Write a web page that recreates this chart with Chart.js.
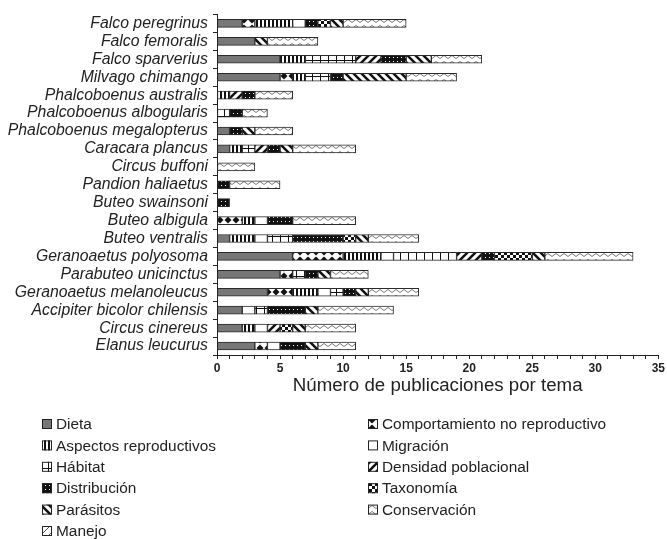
<!DOCTYPE html>
<html>
<head>
<meta charset="utf-8">
<script src="https://cdn.jsdelivr.net/npm/chart.js@4"></script>
<style>
  html, body { margin: 0; padding: 0; background: #fff; }
  #chart { display: block; }
</style>
</head>
<body>
<canvas id="chart" width="667" height="539"></canvas>
<script>
// Species, top to bottom
const species = [
  'Falco peregrinus', 'Falco femoralis', 'Falco sparverius', 'Milvago chimango',
  'Phalcoboenus australis', 'Phalcoboenus albogularis', 'Phalcoboenus megalopterus',
  'Caracara plancus', 'Circus buffoni', 'Pandion haliaetus', 'Buteo swainsoni',
  'Buteo albigula', 'Buteo ventralis', 'Geranoaetus polyosoma', 'Parabuteo unicinctus',
  'Geranoaetus melanoleucus', 'Accipiter bicolor chilensis', 'Circus cinereus', 'Elanus leucurus'
];

// Number of publications per topic (same order as species)
const dieta          = [2, 3, 5, 5, 0, 0, 1, 1, 0, 0, 0, 0, 1, 6, 5, 4, 2, 2, 3];
const comportamiento = [1, 0, 0, 1, 0, 0, 0, 0, 0, 0, 0, 2, 0, 4, 1, 2, 0, 0, 1];
const aspectos       = [3, 0, 2, 1, 1, 0, 0, 1, 0, 0, 0, 1, 2, 3, 0, 2, 0, 1, 0];
const migracion      = [1, 0, 0, 0, 0, 0, 0, 0, 0, 0, 0, 1, 1, 1, 0, 1, 1, 1, 1];
const habitat        = [0, 0, 4, 2, 0, 1, 0, 1, 0, 0, 0, 0, 2, 5, 1, 1, 1, 0, 0];
const densidad       = [0, 0, 2, 0, 1, 0, 0, 1, 0, 0, 0, 0, 0, 2, 0, 0, 0, 1, 0];
const distribucion   = [1, 0, 2, 1, 1, 1, 1, 1, 0, 1, 1, 2, 4, 1, 1, 1, 3, 0, 2];
const taxonomia      = [1, 0, 0, 0, 0, 0, 0, 0, 0, 0, 0, 0, 1, 3, 0, 0, 0, 1, 0];
const parasitos      = [1, 1, 2, 5, 0, 0, 1, 1, 0, 0, 0, 0, 1, 1, 1, 1, 1, 1, 1];
const conservacion   = [5, 4, 4, 4, 3, 2, 3, 5, 3, 4, 0, 5, 4, 7, 3, 4, 6, 4, 3];
const manejo         = [0, 0, 0, 0, 0, 0, 0, 0, 0, 0, 0, 0, 0, 0, 0, 0, 0, 0, 0];

const topicNames = [
  'Dieta', 'Comportamiento no reproductivo', 'Aspectos reproductivos', 'Migración',
  'Hábitat', 'Densidad poblacional', 'Distribución', 'Taxonomía',
  'Parásitos', 'Conservación', 'Manejo'
];
const topicValues = [
  dieta, comportamiento, aspectos, migracion, habitat, densidad,
  distribucion, taxonomia, parasitos, conservacion, manejo
];

const FONT = '"Liberation Sans", Arial, sans-serif';
const INK = '#222';

const canvas = document.getElementById('chart');
const mainCtx = canvas.getContext('2d');

// Build a black & white fill pattern for each topic
function makePattern(kind) {
  const c = document.createElement('canvas');
  let w = 8, h = 8;
  if (kind === 'aspectos' || kind === 'distribucion') { w = 4; h = 4; }
  if (kind === 'taxonomia') { w = 6; h = 6; }
  if (kind === 'conservacion') { w = 8; h = 6; }
  c.width = w; c.height = h;
  const g = c.getContext('2d');
  g.fillStyle = '#fff';
  g.fillRect(0, 0, w, h);
  g.fillStyle = '#111';
  g.strokeStyle = '#111';

  switch (kind) {
    case 'dieta':
      g.fillStyle = '#777';
      g.fillRect(0, 0, w, h);
      break;
    case 'comportamiento':
      g.beginPath();
      g.moveTo(4, 0.5); g.lineTo(7.5, 4); g.lineTo(4, 7.5); g.lineTo(0.5, 4);
      g.closePath();
      g.fill();
      break;
    case 'aspectos':
      g.fillRect(0, 0, 2, 4);
      break;
    case 'migracion':
      break;
    case 'habitat':
      g.fillRect(0, 0, 1, 8);
      g.fillRect(0, 4, 8, 1);
      break;
    case 'densidad':
      g.lineWidth = 2.5;
      g.beginPath();
      g.moveTo(-2, 10); g.lineTo(10, -2);
      g.moveTo(-2, 2); g.lineTo(2, -2);
      g.moveTo(6, 10); g.lineTo(10, 6);
      g.stroke();
      break;
    case 'distribucion':
      g.fillRect(0, 0, 4, 4);
      g.fillStyle = '#fff';
      g.fillRect(1, 1, 1, 1);
      break;
    case 'taxonomia':
      g.fillRect(0, 0, 3, 3);
      g.fillRect(3, 3, 3, 3);
      break;
    case 'parasitos':
      g.lineWidth = 2.5;
      g.beginPath();
      g.moveTo(-2, -2); g.lineTo(10, 10);
      g.moveTo(6, -2); g.lineTo(10, 2);
      g.moveTo(-2, 6); g.lineTo(2, 10);
      g.stroke();
      break;
    case 'conservacion':
      g.strokeStyle = '#777';
      g.lineWidth = 1;
      g.beginPath();
      g.moveTo(0, 4.5); g.lineTo(4, 1.5); g.lineTo(8, 4.5);
      g.stroke();
      break;
    case 'manejo':
      g.strokeStyle = '#555';
      g.lineWidth = 1;
      g.beginPath();
      g.moveTo(0, 8); g.lineTo(8, 0);
      g.stroke();
      break;
  }
  return mainCtx.createPattern(c, 'repeat');
}

const patternKinds = [
  'dieta', 'comportamiento', 'aspectos', 'migracion', 'habitat', 'densidad',
  'distribucion', 'taxonomia', 'parasitos', 'conservacion', 'manejo'
];
const patterns = patternKinds.map(makePattern);

const datasets = topicNames.map((name, i) => ({
  label: name,
  data: topicValues[i].map(v => (v === 0 ? null : v)),
  backgroundColor: patterns[i],
  borderColor: '#2a2a2a',
  borderWidth: 1,
  borderSkipped: false,
  barThickness: 8
}));

// Two-column legend drawn under the axis
const patternLegend = {
  id: 'patternLegend',
  afterDraw(chart) {
    const ctx = chart.ctx;
    ctx.save();
    ctx.font = '15.4px ' + FONT;
    ctx.textBaseline = 'middle';
    topicNames.forEach((name, i) => {
      const col = i % 2;
      const row = Math.floor(i / 2);
      const x = col === 0 ? 42 : 368;
      const y = 424 + row * 21.4;
      ctx.fillStyle = patterns[i];
      ctx.fillRect(x, y - 5, 10, 10);
      ctx.strokeStyle = INK;
      ctx.lineWidth = 1;
      ctx.strokeRect(x + 0.5, y - 4.5, 9, 9);
      ctx.fillStyle = INK;
      ctx.fillText(name, x + 14, y + 1);
    });
    ctx.restore();
  }
};

new Chart(canvas, {
  type: 'bar',
  data: { labels: species, datasets: datasets },
  options: {
    indexAxis: 'y',
    responsive: false,
    animation: false,
    layout: { padding: { top: 8, right: 5, bottom: 136, left: 0 } },
    scales: {
      x: {
        stacked: true,
        min: 0,
        max: 35,
        ticks: {
          stepSize: 1,
          autoSkip: false,
          maxRotation: 0,
          padding: 2,
          color: INK,
          font: { family: FONT, size: 12, weight: 'bold' },
          callback: v => (v % 5 === 0 ? v : '')
        },
        grid: { drawOnChartArea: false, tickLength: 4, color: INK },
        border: { color: INK, width: 1 },
        title: {
          display: true,
          text: 'Número de publicaciones por tema',
          color: INK,
          font: { family: FONT, size: 18.7 },
          padding: { top: 6, bottom: 6 }
        },
        afterFit: s => { s.height = 48; }
      },
      y: {
        stacked: true,
        ticks: {
          autoSkip: false,
          padding: 5,
          color: INK,
          font: { family: FONT, size: 15.8, style: 'italic' }
        },
        grid: { drawOnChartArea: false, tickLength: 4, color: INK },
        border: { color: INK, width: 1 },
        afterFit: s => { s.width = 217; }
      }
    },
    plugins: {
      legend: { display: false },
      tooltip: { enabled: false }
    }
  },
  plugins: [patternLegend]
});
</script>
</body>
</html>
